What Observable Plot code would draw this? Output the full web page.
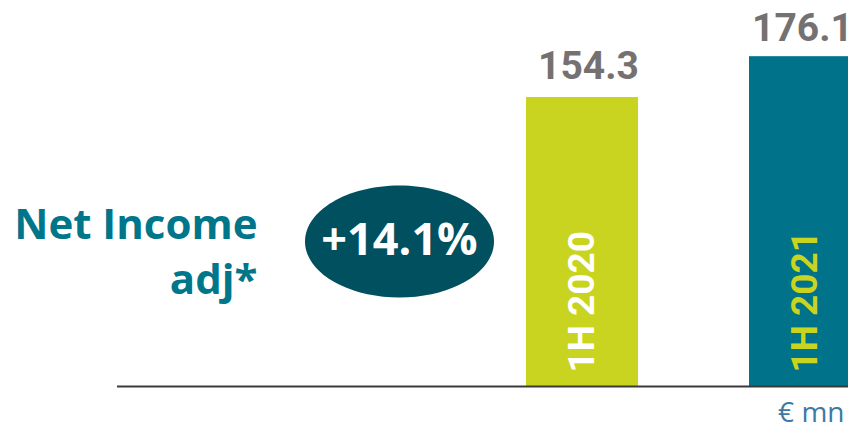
<!DOCTYPE html>
<html>
<head>
<meta charset="utf-8">
<script src="https://cdn.jsdelivr.net/npm/d3@7"></script>
<script src="https://cdn.jsdelivr.net/npm/@observablehq/plot@0.6"></script>
<style>
  html, body { margin: 0; padding: 0; overflow: hidden; background: #fff; }
</style>
</head>
<body>
<div id="chart"></div>
<script>
const periods = ["1H 2020", "1H 2021"];
const values = [154.3, 176.1];
const barColors = ["#c9d420", "#00738a"];
const labelColors = ["#ffffff", "#c9d420"];
const growthLabel = "+14.1%";
const titleLines = ["Net Income", "adj*"];
const unitLabel = "€ mn";

const data = periods.map((p, i) => ({period: p, value: values[i], fill: barColors[i], labelFill: labelColors[i]}));

const ellipseSymbol = {
  draw(ctx) {
    const rx = 94.5, ry = 56, k = 0.5523;
    ctx.moveTo(rx, 0);
    ctx.bezierCurveTo(rx, ry * k, rx * k, ry, 0, ry);
    ctx.bezierCurveTo(-rx * k, ry, -rx, ry * k, -rx, 0);
    ctx.bezierCurveTo(-rx, -ry * k, -rx * k, -ry, 0, -ry);
    ctx.bezierCurveTo(rx * k, -ry, rx, -ry * k, rx, 0);
    ctx.closePath();
  }
};

const valueStyle = {
  x: "period", y: "value", text: d => d.value.toFixed(1),
  lineAnchor: "bottom", fill: "#767171",
  fontFamily: "Roboto", fontWeight: 700, fontSize: 39, clip: true
};

const chart = Plot.plot({
  width: 848,
  height: 427,
  marginTop: 0,
  marginBottom: 41,
  marginLeft: 0,
  marginRight: 0,
  x: {domain: periods, range: [526, 861], paddingInner: 0.5, paddingOuter: 0, axis: null},
  y: {domain: [0, 206.1], axis: null},
  marks: [
    Plot.barY(data, {x: "period", y: "value", fill: "fill", clip: true}),
    Plot.ruleY([0], {insetLeft: 117, stroke: "#3a3a3a", strokeWidth: 2}),
    Plot.text(data.slice(0, 1), {...valueStyle, dy: -19, dx: 6}),
    Plot.text(data.slice(1), {...valueStyle, dy: -16, dx: -3}),
    Plot.text(data, {
      x: "period", y: d => 0, text: "period", rotate: -90,
      textAnchor: "start", lineAnchor: "middle", dy: -14, fill: "labelFill",
      fontFamily: "Roboto", fontWeight: 700, fontSize: 37
    }),
    Plot.dot([growthLabel], {
      frameAnchor: "top-left", dx: 399, dy: 241, symbol: ellipseSymbol,
      fill: "#00505f", stroke: null
    }),
    Plot.text([growthLabel], {
      frameAnchor: "top-left", dx: 399, dy: 240, text: d => d,
      lineAnchor: "middle", textAnchor: "middle", fill: "#ffffff",
      fontFamily: "Open Sans", fontWeight: 700, fontSize: 45
    }),
    Plot.text([titleLines[0]], {
      frameAnchor: "top-left", dx: 257, dy: 238, text: d => d,
      lineAnchor: "bottom", textAnchor: "end", fill: "#00768b",
      fontFamily: "Open Sans", fontWeight: 700, fontSize: 42
    }),
    Plot.text([titleLines[1]], {
      frameAnchor: "top-left", dx: 257, dy: 293, text: d => d,
      lineAnchor: "bottom", textAnchor: "end", fill: "#00768b",
      fontFamily: "Open Sans", fontWeight: 700, fontSize: 42
    }),
    Plot.text([unitLabel], {
      frameAnchor: "bottom-right", dx: -4, dy: 35, text: d => d,
      lineAnchor: "bottom", textAnchor: "end", fill: "#3d7aa3",
      fontFamily: "Open Sans", fontWeight: 400, fontSize: 28
    })
  ]
});
document.getElementById("chart").appendChild(chart);
</script>
</body>
</html>
